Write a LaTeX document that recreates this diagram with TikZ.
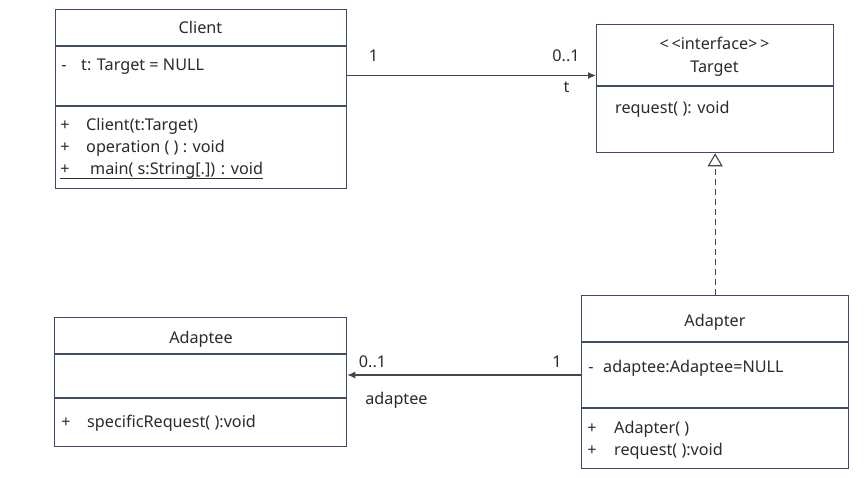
\documentclass[tikz,border=0pt]{standalone}
\usepackage{fontspec}
\setmainfont{Noto Sans}
\usetikzlibrary{arrows.meta}
\definecolor{boxc}{HTML}{3F4A6B}
\definecolor{txt}{HTML}{2B2B2B}
\definecolor{linec}{HTML}{454545}
\begin{document}
\begin{tikzpicture}[x=1pt,y=-1pt,
  font=\fontsize{16.2}{19}\selectfont,
  umlbox/.style={draw=boxc, line width=1.3pt, fill=white, inner sep=0pt, anchor=north west},
  sepline/.style={draw=boxc, line width=1.3pt},
  ttl/.style={text=txt, anchor=base, inner sep=0pt},
  txtl/.style={text=txt, anchor=base west, inner sep=0pt},
  sym/.style={text=txt, anchor=base, inner sep=0pt},
  assoc/.style={draw=linec, line width=1.1pt, -{Latex[length=8pt,width=7pt]}},
  realize/.style={draw=linec, line width=1.1pt, dash pattern=on 6pt off 4pt,
     -{Triangle[open, length=13pt, width=15pt, fill=white]}}
]
\useasboundingbox[fill=white] (0,0) rectangle (864,478);

% boxes
\node[umlbox, minimum width=291pt, minimum height=179pt] (client) at (55,9) {};
\node[umlbox, minimum width=237pt, minimum height=128pt] (target) at (596,24) {};
\node[umlbox, minimum width=292pt, minimum height=129pt] (adaptee) at (54,317) {};
\node[umlbox, minimum width=267pt, minimum height=173pt] (adapter) at (581,295) {};

% separators
\coordinate (c1) at (0,46);  \coordinate (c2) at (0,106);
\coordinate (t1) at (0,86);
\coordinate (a1) at (0,354); \coordinate (a2) at (0,398);
\coordinate (d1) at (0,342); \coordinate (d2) at (0,408);
\draw[sepline] (client.west |- c1) -- (client.east |- c1);
\draw[sepline] (client.west |- c2) -- (client.east |- c2);
\draw[sepline] (target.west |- t1) -- (target.east |- t1);
\draw[sepline] (adaptee.west |- a1) -- (adaptee.east |- a1);
\draw[sepline] (adaptee.west |- a2) -- (adaptee.east |- a2);
\draw[sepline] (adapter.west |- d1) -- (adapter.east |- d1);
\draw[sepline] (adapter.west |- d2) -- (adapter.east |- d2);

% Client texts
\node[ttl] (clientT) at (200.5,33.5) {Client};
\node[sym] (cs1) at (64,71) {-};
\node[txtl] (ca1) at (81,71) {t: Target = NULL};
\node[sym] (cs2) at (65,131) {+};
\node[txtl] (cm1) at (86,131) {Client(t:Target)};
\node[sym] (cs3) at (65,153) {+};
\node[txtl] (cm2) at (86,153) {operation ( ) : void};
\node[sym] (cs4) at (65,175) {+};
\node[txtl] (cm3) at (90,175) {main( s:String[.]) : void};
\draw[txt, line width=0.9pt] (60,178.5) -- (cm3.east |- 0,178.5);

% Target texts
\node[ttl] (targetS) at (714.5,50) {<\,<interface>\,>};
\node[ttl] (targetT) at (714.5,73) {Target};
\node[txtl] (tm1) at (615,114) {request( ): void};

% Adaptee texts
\node[ttl] (adapteeT) at (201,343) {Adaptee};
\node[sym] (es1) at (66,427) {+};
\node[txtl] (em1) at (87,427) {specificRequest( ):void};

% Adapter texts
\node[ttl] (adapterT) at (715,326) {Adapter};
\node[sym] (ds1) at (591,372) {-};
\node[txtl] (da1) at (603,372) {adaptee:Adaptee=NULL};
\node[sym] (ds2) at (592,433) {+};
\node[txtl] (dm1) at (614,433) {Adapter( )};
\node[sym] (ds3) at (592,455) {+};
\node[txtl] (dm2) at (614,455) {request( ):void};

% connectors
\coordinate (ya) at (0,75.5);
\draw[assoc] (client.east |- ya) -- (target.west |- ya);
\node[sym] (m1) at (373.5,62) {1};
\node[sym] (m2) at (566,62) {0..1};
\node[sym] (m3) at (566.5,93) {t};

\coordinate (yb) at (0,375);
\draw[assoc] (adapter.west |- yb) -- (adaptee.east |- yb);
\node[sym] (m4) at (372.5,367) {0..1};
\node[sym] (m5) at (557,367) {1};
\node[sym] (m6) at (396.5,404) {adaptee};

\draw[realize] (adapter.north) -- (target.south);
\end{tikzpicture}
\end{document}
